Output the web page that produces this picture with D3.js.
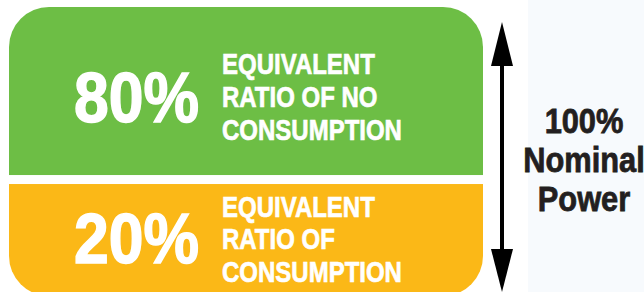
<!DOCTYPE html>
<html lang="en">
<head>
  <meta charset="UTF-8">
  <title>Nominal power ratio</title>
  <script src="https://d3js.org/d3.v7.min.js"></script>
  <style>
    body {
      margin: 0;
      padding: 0;
      background: #ffffff;
    }
    svg {
      display: block;
    }
    text {
      font-family: 'Liberation Sans', Arial, sans-serif;
      font-weight: bold;
    }
  </style>
</head>
<body>
  <svg id="chart" width="644" height="292"></svg>

  <script>
    // data
    const categories = ["no consumption", "consumption"];
    const values = [80, 20];
    const labels = [
      ["EQUIVALENT", "RATIO OF NO", "CONSUMPTION"],
      ["EQUIVALENT", "RATIO OF", "CONSUMPTION"]
    ];
    const colors = ["#6dbe45", "#fbb817"];
    const totalLabel = ["100%", "Nominal", "Power"];

    const W = 644, H = 292;
    const svg = d3.select("#chart");

    // faint tinted panel on the right
    svg.append("rect")
      .attr("x", 528).attr("y", 0)
      .attr("width", W - 528).attr("height", H)
      .attr("fill", "#f7fafd");

    // layout of the block: rows split at a fixed layout fraction
    const box = { x: 9, y: 7, w: 474, h: 289, r: 40, gap: 9 };
    const yPos = d3.scaleLinear().domain([0, 1]).range([box.y, box.y + box.h]);
    const split = 0.597;
    const rows = categories.map((c, i) => ({
      cat: c,
      value: values[i],
      lines: labels[i],
      color: colors[i],
      y0: i === 0 ? yPos(0) : yPos(split) + box.gap / 2,
      y1: i === 0 ? yPos(split) - box.gap / 2 : yPos(1)
    }));

    const defs = svg.append("defs");
    defs.append("clipPath").attr("id", "round")
      .append("rect")
      .attr("x", box.x).attr("y", box.y)
      .attr("width", box.w).attr("height", box.h)
      .attr("rx", box.r);

    const g = svg.append("g").attr("clip-path", "url(#round)");
    g.selectAll("rect.row")
      .data(rows)
      .join("rect")
      .attr("class", "row")
      .attr("x", box.x)
      .attr("y", d => d.y0)
      .attr("width", box.w)
      .attr("height", d => d.y1 - d.y0)
      .attr("fill", d => d.color);

    // condensed look: squeeze the glyphs horizontally, thicken with a stroke
    const numBase = [122, 263];
    const lineBase = [[74, 107, 140], [217, 249, 282]];

    const rowG = svg.selectAll("g.lab")
      .data(rows)
      .join("g")
      .attr("class", "lab");

    rowG.append("text")
      .attr("transform", (d, i) => `translate(199,${numBase[i]}) scale(0.88,1)`)
      .attr("text-anchor", "end")
      .attr("fill", "#ffffff")
      .attr("stroke", "#ffffff")
      .attr("stroke-width", 1.5)
      .style("font-size", "71px")
      .text(d => d.value + "%");

    rowG.each(function (d, i) {
      d3.select(this).selectAll("text.line")
        .data(d.lines)
        .join("text")
        .attr("class", "line")
        .attr("transform", (t, j) => `translate(222,${lineBase[i][j]}) scale(0.8,1)`)
        .attr("fill", "#ffffff")
        .attr("stroke", "#ffffff")
        .attr("stroke-width", 0.7)
        .style("font-size", "30px")
        .text(t => t);
    });

    // double-headed arrow
    const ax = 502;
    svg.append("line")
      .attr("x1", ax).attr("x2", ax)
      .attr("y1", 60).attr("y2", 255)
      .attr("stroke", "#000").attr("stroke-width", 4);
    svg.append("path")
      .attr("d", `M${ax},22 L${ax - 11},66 L${ax + 11},66 Z`)
      .attr("fill", "#000");
    svg.append("path")
      .attr("d", `M${ax},292 L${ax - 11},249 L${ax + 11},249 Z`)
      .attr("fill", "#000");

    svg.selectAll("text.total")
      .data(totalLabel)
      .join("text")
      .attr("class", "total")
      .attr("transform", (d, i) => `translate(584,${133 + i * 39}) scale(0.88,1)`)
      .attr("text-anchor", "middle")
      .attr("fill", "#231f20")
      .attr("stroke", "#231f20")
      .attr("stroke-width", 0.8)
      .style("font-size", "35px")
      .text(d => d);
  </script>
</body>
</html>
